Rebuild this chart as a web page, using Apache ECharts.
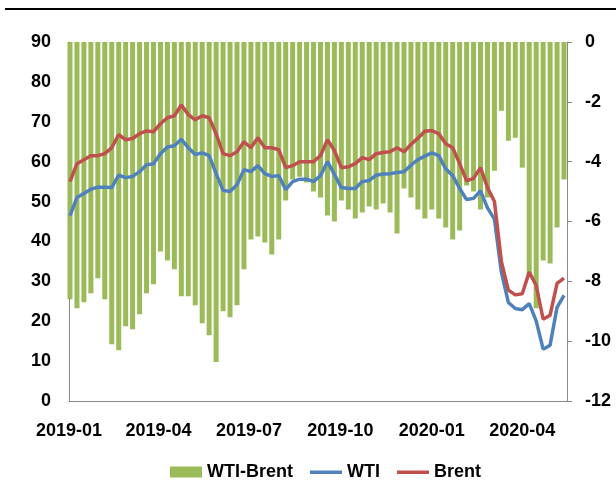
<!DOCTYPE html>
<html>
<head>
<meta charset="utf-8">
<script src="https://cdn.jsdelivr.net/npm/echarts@6/dist/echarts.min.js"></script>
<style>
  html, body { margin: 0; padding: 0; background: #fff; }
  #chart { width: 616px; height: 503px; }
</style>
</head>
<body>
<div id="chart"></div>
<script>
// one point per trading week (date = middle of the week)
const weeks = [
  '2019-01-02', '2019-01-09', '2019-01-16', '2019-01-23', '2019-01-30', '2019-02-06', '2019-02-13', '2019-02-20',
  '2019-02-27', '2019-03-06', '2019-03-13', '2019-03-20', '2019-03-27', '2019-04-03', '2019-04-10', '2019-04-17',
  '2019-04-24', '2019-05-01', '2019-05-08', '2019-05-15', '2019-05-22', '2019-05-29', '2019-06-05', '2019-06-12',
  '2019-06-19', '2019-06-26', '2019-07-03', '2019-07-10', '2019-07-17', '2019-07-24', '2019-07-31', '2019-08-07',
  '2019-08-14', '2019-08-21', '2019-08-28', '2019-09-04', '2019-09-11', '2019-09-18', '2019-09-25', '2019-10-02',
  '2019-10-09', '2019-10-16', '2019-10-23', '2019-10-30', '2019-11-06', '2019-11-13', '2019-11-20', '2019-11-27',
  '2019-12-04', '2019-12-11', '2019-12-18', '2019-12-25', '2020-01-01', '2020-01-08', '2020-01-15', '2020-01-22',
  '2020-01-29', '2020-02-05', '2020-02-12', '2020-02-19', '2020-02-26', '2020-03-04', '2020-03-11', '2020-03-18',
  '2020-03-25', '2020-04-01', '2020-04-08', '2020-04-15', '2020-04-22', '2020-04-29', '2020-05-06', '2020-05-13'
];

const wti = [
  46.5, 51.0, 52.0, 53.1, 53.6, 53.6, 53.5, 56.6, 56.0, 56.3, 57.5, 59.2, 59.5, 62.0, 63.7, 64.0,
  65.6, 63.5, 61.8, 62.2, 61.5, 57.0, 52.8, 52.5, 54.2, 58.0, 57.5, 59.0, 57.0, 56.3, 56.5, 53.0,
  55.0, 55.6, 55.6, 55.0, 56.5, 60.0, 56.8, 53.5, 53.3, 53.3, 55.0, 55.3, 56.6, 56.9, 57.0, 57.3,
  57.5, 59.1, 60.5, 61.4, 62.2, 61.5, 58.2, 56.5, 53.3, 50.5, 50.8, 52.7, 48.4, 45.6, 32.3, 24.7,
  23.2, 22.9, 24.4, 20.1, 13.0, 14.0, 23.5, 26.5
];

const brent = [
  55.0, 59.5, 60.5, 61.5, 61.5, 62.0, 63.5, 66.8, 65.5, 65.8, 67.0, 67.7, 67.5, 69.5, 71.0, 71.5,
  74.2, 71.8, 70.5, 71.5, 71.0, 67.0, 62.0, 61.5, 62.5, 65.0, 63.5, 66.0, 63.5, 63.5, 63.0, 58.5,
  59.0, 60.0, 60.0, 60.0, 61.5, 65.5, 62.8, 58.5, 58.7, 59.5, 61.0, 60.5, 62.0, 62.3, 62.5, 63.5,
  62.5, 64.3, 65.9, 67.6, 67.8, 67.0, 64.5, 63.5, 59.5, 55.2, 55.8, 58.5, 53.5, 50.0, 34.9, 27.8,
  26.6, 26.9, 32.3, 29.0, 20.5, 21.5, 29.5, 30.8
];

// WTI minus Brent, right axis
const spread = [
  -8.6, -8.9, -8.7, -8.4, -7.9, -8.6, -10.1, -10.3, -9.5, -9.6, -9.1, -8.4, -8.1, -7.0, -7.3, -7.6,
  -8.5, -8.5, -8.8, -9.4, -9.8, -10.7, -9.0, -9.2, -8.8, -7.6, -6.6, -6.5, -6.7, -7.1, -6.6, -5.3,
  -4.6, -4.5, -4.7, -5.0, -5.2, -5.8, -6.0, -5.3, -5.6, -5.9, -5.7, -5.5, -5.6, -5.4, -5.7, -6.4,
  -4.9, -5.2, -5.6, -5.9, -5.6, -5.9, -6.2, -6.6, -6.3, -4.8, -5.0, -5.6, -5.2, -4.3, -2.3, -3.3,
  -3.2, -4.2, -7.8, -8.9, -7.3, -7.4, -6.2, -4.6
];

const tickDates = ['2019-01-01', '2019-04-01', '2019-07-01', '2019-10-01', '2020-01-01', '2020-04-01'];
const tickLabels = ['2019-01', '2019-04', '2019-07', '2019-10', '2020-01', '2020-04'];

const ts = d => +new Date(d + 'T00:00:00');
const tickValues = tickDates.map(ts);

const chart = echarts.init(document.getElementById('chart'));

const font = { fontFamily: 'Liberation Sans, Arial, sans-serif', fontWeight: 'bold', fontSize: 18, color: '#000' };
const axisGray = '#8a8a8a';
// thin bar inside a 32x11 box (corner specks keep the box size)
const lineIcon = 'path://M0,0L0.01,0L0,0.01Z M0,4L32,4L32,7.5L0,7.5Z M32,11L31.99,11L32,10.99Z';

chart.setOption({
  animation: false,
  grid: { left: 69, right: 49, top: 42, bottom: 102 },
  graphic: [{
    type: 'line',
    shape: { x1: 5, y1: 9, x2: 616, y2: 9 },
    style: { stroke: '#000', lineWidth: 2 }
  }],
  legend: {
    left: 165,
    top: 458,
    itemWidth: 32,
    itemHeight: 11,
    itemGap: 17,
    textStyle: font,
    data: [
      { name: 'WTI-Brent', icon: 'rect' },
      { name: 'WTI', icon: lineIcon },
      { name: 'Brent', icon: lineIcon }
    ]
  },
  xAxis: {
    type: 'value',
    min: ts('2019-01-01'),
    max: ts('2020-05-16'),
    axisLine: { lineStyle: { color: axisGray, width: 1 } },
    axisTick: { show: false },
    splitLine: { show: false },
    axisLabel: Object.assign({}, font, {
      margin: 21,
      customValues: tickValues,
      formatter: v => tickLabels[tickValues.indexOf(v)] || ''
    })
  },
  yAxis: [{
    type: 'value',
    min: 0,
    max: 90,
    interval: 10,
    axisLine: { show: true, lineStyle: { color: axisGray, width: 1 } },
    axisTick: { show: false },
    splitLine: { show: false },
    axisLabel: Object.assign({}, font, { margin: 18 })
  }, {
    type: 'value',
    position: 'right',
    min: -12,
    max: 0,
    interval: 2,
    axisLine: { show: true, lineStyle: { color: axisGray, width: 1 } },
    axisTick: { show: true, length: 5, lineStyle: { color: axisGray } },
    splitLine: { show: false },
    axisLabel: Object.assign({}, font, { margin: 18 })
  }],
  series: [{
    name: 'WTI-Brent',
    type: 'bar',
    yAxisIndex: 1,
    barWidth: 5,
    itemStyle: { color: '#9bbb59' },
    data: weeks.map((d, i) => [ts(d), spread[i]])
  }, {
    name: 'WTI',
    type: 'line',
    yAxisIndex: 0,
    symbol: 'none',
    lineStyle: { color: '#4f81bd', width: 3.5 },
    itemStyle: { color: '#4f81bd' },
    data: weeks.map((d, i) => [ts(d), wti[i]])
  }, {
    name: 'Brent',
    type: 'line',
    yAxisIndex: 0,
    symbol: 'none',
    lineStyle: { color: '#c0504d', width: 3.5 },
    itemStyle: { color: '#c0504d' },
    data: weeks.map((d, i) => [ts(d), brent[i]])
  }]
});
</script>
</body>
</html>
